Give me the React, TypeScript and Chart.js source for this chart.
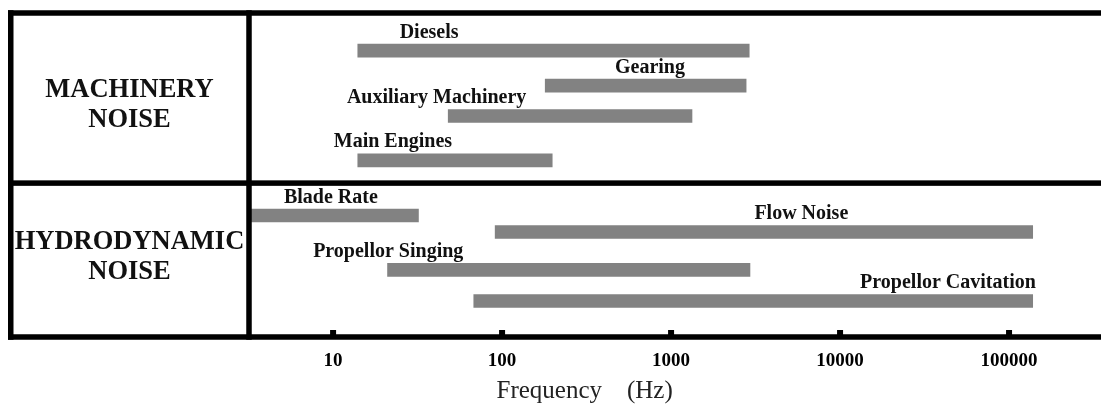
import React, { useEffect, useRef } from "react";
import { Chart, registerables } from "chart.js";

Chart.register(...registerables);

// ---- data ----
const sources = [
  "Diesels",
  "Gearing",
  "Auxiliary Machinery",
  "Main Engines",
  "Blade Rate",
  "Flow Noise",
  "Propellor Singing",
  "Propellor Cavitation",
];
const lowHz = [14, 180, 48, 14, 3.27, 91, 21, 68];
const highHz = [2900, 2780, 1330, 198, 32, 138000, 2930, 138000];
// lane of each row on the vertical (0 = top of frame, 10 = bottom)
const rowLane = [1.16, 2.24, 3.18, 4.55, 6.25, 6.76, 7.93, 8.89];
// frequency at which each row's caption is centred
const labelHz = [37, 750, 41, 22.6, 9.7, 5900, 21.2, 43500];
const groupNames = [
  ["MACHINERY", "NOISE"],
  ["HYDRODYNAMIC", "NOISE"],
];
const groupEdges = [0, 5.25, 10];
const groupLabelLane = [2.84, 7.53];
const tickHz = [10, 100, 1000, 10000, 100000];
const tickLabels = ["10", "100", "1000", "10000", "100000"];
const axisTitle = "Frequency    (Hz)";
const freqMin = 3.18;
const freqMax = 350000;

const SERIF = '"Liberation Serif", "Times New Roman", serif';
const BAR = 13;
const LW = 5.5;

const framePlugin = {
  id: "framePlugin",
  afterDraw(chart: any) {
    const { ctx, chartArea, scales } = chart;
    const xs = scales.x;
    const ys = scales.y;
    const W = chart.width;
    const left = 8;
    ctx.save();

    // captions over bars
    ctx.fillStyle = "#111";
    ctx.font = `bold 20px ${SERIF}`;
    ctx.textAlign = "center";
    ctx.textBaseline = "alphabetic";
    sources.forEach((s, i) => {
      const yTop = ys.getPixelForValue(rowLane[i]) - BAR / 2;
      ctx.fillText(s, xs.getPixelForValue(labelHz[i]), yTop - 6.5);
    });

    // frame lines
    ctx.fillStyle = "#000";
    groupEdges.forEach((e) => {
      const py = ys.getPixelForValue(e);
      ctx.fillRect(left, py - LW / 2, W - left, LW);
    });
    const top = ys.getPixelForValue(groupEdges[0]);
    const bottom = ys.getPixelForValue(groupEdges[groupEdges.length - 1]);
    ctx.fillRect(left, top - LW / 2, LW, bottom - top + LW);
    ctx.fillRect(chartArea.left - LW / 2, top - LW / 2, LW, bottom - top + LW);

    // tick marks and labels
    ctx.font = `bold 19px ${SERIF}`;
    tickHz.forEach((v, i) => {
      const px = xs.getPixelForValue(v);
      ctx.fillRect(px - 3, bottom - 7, 6, 7);
      ctx.fillText(tickLabels[i], px, bottom + 28.5);
    });

    // group labels in left column
    ctx.fillStyle = "#111";
    ctx.font = `bold 26.5px ${SERIF}`;
    ctx.textBaseline = "middle";
    const colCenter = (left + chartArea.left) / 2 + 1;
    groupNames.forEach((lines, g) => {
      const cy = ys.getPixelForValue(groupLabelLane[g]);
      lines.forEach((ln, k) => {
        ctx.fillText(ln, colCenter, cy + (k - (lines.length - 1) / 2) * 29.5);
      });
    });

    // axis title
    ctx.font = `25px ${SERIF}`;
    ctx.textBaseline = "alphabetic";
    ctx.fillStyle = "#222";
    ctx.fillText(axisTitle, W * 0.531, bottom + 61);

    ctx.restore();
  },
};

export default function App() {
  const ref = useRef<HTMLCanvasElement | null>(null);

  useEffect(() => {
    if (!ref.current) return;
    const chart = new Chart(ref.current, {
      type: "bar",
      data: {
        datasets: [
          {
            data: sources.map((s, i) => ({ x: [lowHz[i], highHz[i]], y: rowLane[i] })) as any,
            backgroundColor: "#828282",
            borderWidth: 0,
            borderSkipped: false,
            barThickness: BAR,
          },
        ],
      },
      options: {
        indexAxis: "y",
        animation: false,
        responsive: false,
        devicePixelRatio: 1,
        layout: { padding: { left: 249, right: 0, top: 13, bottom: 72 } },
        plugins: {
          legend: { display: false },
          tooltip: { enabled: false },
        },
        scales: {
          x: {
            type: "logarithmic",
            min: freqMin,
            max: freqMax,
            offset: false,
            display: false,
          },
          y: {
            type: "linear",
            min: groupEdges[0],
            max: groupEdges[groupEdges.length - 1],
            reverse: true,
            offset: false,
            grid: { offset: false },
            display: false,
          },
        },
      },
      plugins: [framePlugin],
    });
    return () => chart.destroy();
  }, []);

  return (
    <div style={{ position: "fixed", left: 0, top: 0, width: 1101, height: 409, background: "#fff" }}>
      <canvas ref={ref} width={1101} height={409} style={{ display: "block" }} />
    </div>
  );
}
